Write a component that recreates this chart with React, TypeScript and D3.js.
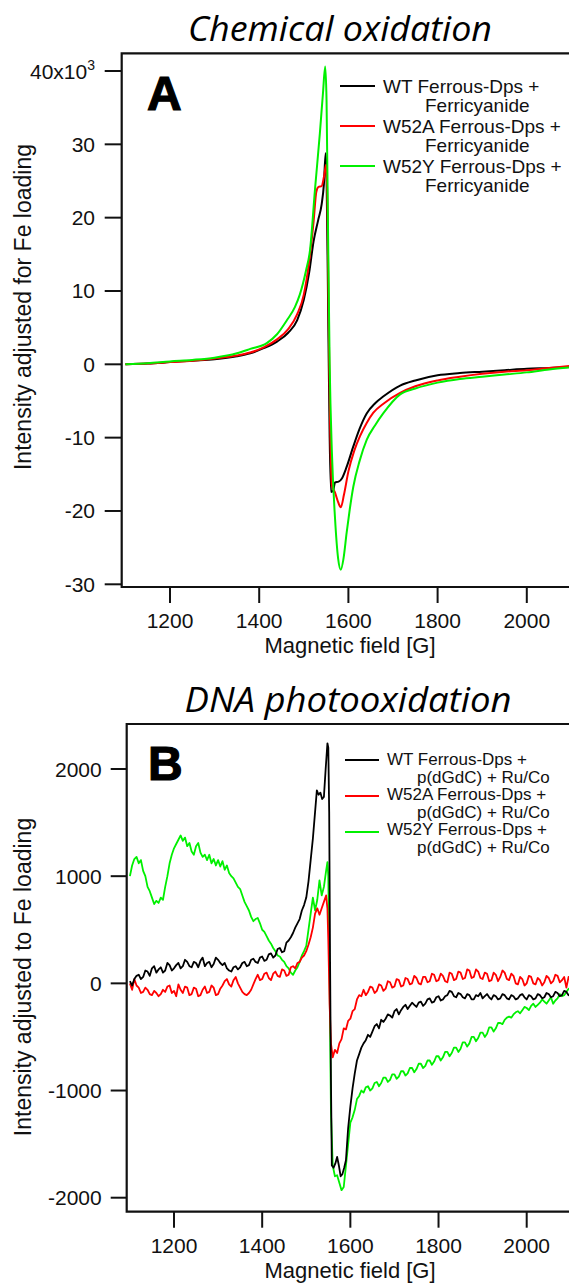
import React from "react";
import * as d3 from "d3";

// ---------- DATA ----------
const FIELD_TICKS = [1200, 1400, 1600, 1800, 2000];
const A_Y_TICKS = [-30, -20, -10, 0, 10, 20, 30, 40];
const B_Y_TICKS = [-2000, -1000, 0, 1000, 2000];

const A_LABELS = ["WT Ferrous-Dps +", "W52A Ferrous-Dps +", "W52Y Ferrous-Dps +"];
const A_LABEL2 = "Ferricyanide";
const B_LABEL2 = "p(dGdC) + Ru/Co";
const COLORS = ["#000000", "#ff0000", "#00f000"];

// Panel A (x10^3)
const A_WT: [number, number][] = [
  [1100, 0], [1150, 0.1], [1200, 0.3], [1250, 0.5], [1300, 0.7], [1350, 1.1], [1380, 1.5], [1410, 2.2],
  [1440, 3.1], [1465, 4.3], [1485, 6.0], [1500, 8.8], [1512, 12.5], [1522, 16.8], [1532, 19.6], [1540, 21.8],
  [1545, 24.5], [1549, 28.8], [1551, 26], [1555, 5], [1558, -10], [1561, -17.4], [1566, -17.2], [1570, -16.1],
  [1578, -16.0], [1585, -15.6], [1596, -14], [1611, -11.2], [1625, -8.8], [1641, -6.7], [1660, -5.3],
  [1678, -4.4], [1716, -2.9], [1750, -2.2], [1800, -1.5], [1850, -1.2], [1900, -1.0], [1950, -0.8],
  [2000, -0.6], [2050, -0.5], [2100, -0.35],
];
const A_W52A: [number, number][] = [
  [1100, 0], [1150, 0.1], [1200, 0.3], [1250, 0.5], [1300, 0.8], [1350, 1.2], [1380, 1.6], [1410, 2.3],
  [1440, 3.4], [1465, 4.8], [1485, 6.8], [1500, 9.5], [1512, 14], [1522, 19.5], [1528, 23.5], [1533, 24.2],
  [1540, 24.3], [1545, 25.5], [1550, 27.2], [1553, 22], [1556, 5], [1559, -8], [1563, -16.5], [1570, -17.5],
  [1577, -18.8], [1583, -19.5], [1590, -17.8], [1600, -14.6], [1613, -11.8], [1626, -9.8], [1641, -8.0],
  [1656, -6.6], [1680, -5.3], [1716, -3.9], [1750, -3.0], [1800, -2.2], [1850, -1.7], [1900, -1.3],
  [1950, -1.0], [2000, -0.8], [2050, -0.5], [2100, -0.2],
];
const A_W52Y: [number, number][] = [
  [1100, 0], [1150, 0.15], [1200, 0.4], [1250, 0.6], [1300, 0.9], [1350, 1.5], [1380, 2.1], [1417, 2.9],
  [1440, 4.1], [1462, 6.0], [1480, 7.8], [1491, 9.5], [1505, 12.8], [1514, 15.6], [1525, 23.8], [1536, 31.5],
  [1543, 37], [1548, 40.6], [1551, 36], [1554, 20], [1558, 0], [1563, -12], [1570, -21], [1577, -26.5],
  [1583, -28], [1589, -26.5], [1596, -23], [1603, -19.8], [1611, -16.7], [1625, -13.2], [1641, -10.3],
  [1660, -8.3], [1678, -6.7], [1716, -4.1], [1750, -3.3], [1800, -2.5], [1850, -2.0], [1900, -1.7],
  [1950, -1.4], [2000, -1.1], [2050, -0.7], [2100, -0.4],
];

// Panel B
const B_WT: [number, number][] = [
  [1100, 20], [1105, -20], [1110, 40], [1115, 70], [1120, 80], [1125, 40], [1130, 60], [1135, 120],
  [1140, 110], [1145, 70], [1150, 140], [1155, 160], [1160, 100], [1165, 130], [1170, 150], [1175, 100],
  [1180, 120], [1185, 190], [1190, 170], [1195, 120], [1200, 140], [1205, 170], [1210, 190], [1215, 140],
  [1220, 160], [1225, 220], [1230, 200], [1235, 160], [1240, 150], [1245, 200], [1250, 190], [1255, 150],
  [1260, 210], [1265, 240], [1270, 160], [1275, 190], [1280, 200], [1285, 150], [1290, 180], [1295, 240],
  [1300, 220], [1305, 190], [1310, 170], [1315, 190], [1320, 140], [1325, 120], [1330, 110], [1335, 150],
  [1340, 160], [1345, 130], [1350, 150], [1355, 190], [1360, 200], [1365, 160], [1370, 170], [1375, 220],
  [1380, 230], [1385, 200], [1390, 190], [1395, 240], [1400, 250], [1405, 210], [1410, 220], [1415, 270],
  [1420, 280], [1425, 240], [1430, 260], [1435, 320], [1440, 330], [1445, 290], [1450, 300], [1455, 380],
  [1460, 400], [1465, 430], [1470, 470], [1475, 520], [1480, 560], [1485, 600], [1490, 680], [1495, 730],
  [1500, 800], [1505, 950], [1510, 1150], [1515, 1350], [1520, 1600], [1524, 1800],
  [1528, 1760], [1532, 1780], [1536, 1720], [1540, 1740], [1544, 2000], [1548, 2240], [1550, 2200],
  [1552, 1600], [1554, 200], [1556, -900], [1558, -1700], [1562, -1720], [1566, -1680], [1570, -1620],
  [1574, -1700], [1578, -1800], [1582, -1780], [1586, -1720], [1590, -1650], [1595, -1350], [1600, -1150],
  [1605, -980], [1610, -840], [1615, -720], [1620, -660], [1625, -600], [1630, -560], [1635, -530],
  [1640, -480], [1645, -500], [1650, -450], [1655, -400], [1660, -380], [1665, -420], [1670, -340],
  [1675, -360], [1680, -330], [1685, -290], [1690, -300], [1695, -320], [1700, -260], [1705, -240],
  [1710, -290], [1715, -250], [1720, -220], [1725, -200], [1730, -240], [1735, -210], [1740, -180],
  [1745, -200], [1750, -220], [1755, -180], [1760, -170], [1765, -210], [1770, -190], [1775, -150],
  [1780, -140], [1785, -180], [1790, -170], [1795, -130], [1800, -120], [1805, -160], [1810, -150],
  [1815, -120], [1820, -110], [1825, -70], [1830, -80], [1835, -120], [1840, -130], [1845, -90],
  [1850, -100], [1855, -130], [1860, -140], [1865, -100], [1870, -110], [1875, -150], [1880, -150],
  [1885, -110], [1890, -120], [1895, -90], [1900, -140], [1905, -120], [1910, -100], [1915, -130],
  [1920, -150], [1925, -110], [1930, -120], [1935, -150], [1940, -140], [1945, -100], [1950, -110],
  [1955, -140], [1960, -150], [1965, -110], [1970, -120], [1975, -150], [1980, -140], [1985, -110],
  [1990, -100], [1995, -130], [2000, -150], [2005, -110], [2010, -120], [2015, -150], [2020, -140],
  [2025, -100], [2030, -110], [2035, -140], [2040, -130], [2045, -90], [2050, -100], [2055, -130],
  [2060, -120], [2065, -80], [2070, -90], [2075, -120], [2080, -110], [2085, -70], [2090, -80],
  [2095, -110], [2100, -120],
];
const B_W52A: [number, number][] = [
  [1100, 0], [1105, -60], [1110, 40], [1115, -20], [1120, -40], [1125, -90], [1130, -80], [1135, -40],
  [1140, -60], [1145, -100], [1150, -110], [1155, -70], [1160, -90], [1165, -120], [1170, -100],
  [1175, -60], [1180, -80], [1185, -30], [1190, -20], [1195, -90], [1200, -70], [1205, -120], [1210, -10],
  [1215, -60], [1220, -90], [1225, -30], [1230, -40], [1235, -110], [1240, -100], [1245, -40],
  [1250, -50], [1255, -120], [1260, -110], [1265, -60], [1270, -30], [1275, -90], [1280, -80],
  [1285, -20], [1290, -40], [1295, -110], [1300, -100], [1305, -50], [1310, -20], [1315, 20], [1320, 40],
  [1325, -10], [1330, -30], [1335, 30], [1340, 60], [1345, 0], [1350, -40], [1355, -80], [1360, -100],
  [1365, -110], [1370, -90], [1375, -60], [1380, -10], [1385, 40], [1390, 80], [1395, 30], [1400, 40],
  [1405, 90], [1410, 100], [1415, 50], [1420, 30], [1425, 90], [1430, 110], [1435, 70], [1440, 60],
  [1445, 130], [1450, 120], [1455, 70], [1460, 80], [1465, 150], [1470, 160], [1475, 140], [1480, 190],
  [1485, 200], [1490, 240], [1495, 260], [1500, 300], [1505, 360], [1510, 430], [1515, 520], [1520, 650],
  [1525, 700], [1530, 640], [1535, 700], [1540, 760], [1545, 820], [1548, 700], [1550, 400], [1553, -200],
  [1556, -560], [1560, -690], [1565, -620], [1570, -650], [1575, -560], [1580, -520], [1585, -420],
  [1590, -430], [1595, -350], [1600, -330], [1605, -260], [1610, -240], [1615, -150], [1620, -110],
  [1625, -120], [1630, -60], [1635, -110], [1640, -80], [1645, -30], [1650, -40], [1655, -90],
  [1660, -70], [1665, -10], [1670, -20], [1675, -70], [1680, -50], [1685, 20], [1690, 10], [1695, -40],
  [1700, -30], [1705, 40], [1710, 30], [1715, -30], [1720, -20], [1725, 50], [1730, 40], [1735, -10],
  [1740, 0], [1745, 70], [1750, 50], [1755, 0], [1760, -10], [1765, 60], [1770, 60], [1775, 10],
  [1780, 20], [1785, 90], [1790, 80], [1795, 20], [1800, 30], [1805, 90], [1810, 70], [1815, 20],
  [1820, 10], [1825, 100], [1830, 90], [1835, 30], [1840, 40], [1845, 110], [1850, 100], [1855, 40],
  [1860, 50], [1865, 130], [1870, 120], [1875, 50], [1880, 60], [1885, 130], [1890, 110], [1895, 50],
  [1900, 40], [1905, 100], [1910, 90], [1915, 20], [1920, 30], [1925, 100], [1930, 80], [1935, 20],
  [1940, 60], [1945, 120], [1950, 100], [1955, 40], [1960, 30], [1965, 90], [1970, 70], [1975, 0],
  [1980, -10], [1985, 60], [1990, 40], [1995, -20], [2000, 0], [2005, 70], [2010, 60], [2015, 0],
  [2020, -10], [2025, 50], [2030, 30], [2035, -20], [2040, 10], [2045, 70], [2050, 50], [2055, 0],
  [2060, 20], [2065, 80], [2070, 70], [2075, 10], [2080, 30], [2085, 60], [2090, -40], [2095, 60],
  [2100, 10],
];
const B_W52Y: [number, number][] = [
  [1100, 1000], [1105, 1100], [1110, 1160], [1115, 1180], [1120, 1120], [1125, 1150], [1130, 1050],
  [1135, 1000], [1140, 900], [1145, 860], [1150, 800], [1155, 740], [1160, 770], [1165, 750], [1170, 800],
  [1175, 780], [1180, 900], [1185, 1000], [1190, 1120], [1195, 1200], [1200, 1260], [1205, 1300],
  [1210, 1340], [1215, 1380], [1220, 1330], [1225, 1360], [1230, 1280], [1235, 1310], [1240, 1230],
  [1245, 1200], [1250, 1280], [1255, 1310], [1260, 1220], [1265, 1180], [1270, 1200], [1275, 1150],
  [1280, 1200], [1285, 1120], [1290, 1160], [1295, 1100], [1300, 1150], [1305, 1090], [1310, 1140],
  [1315, 1060], [1320, 1100], [1325, 1030], [1330, 1000], [1335, 980], [1340, 940], [1345, 900],
  [1350, 880], [1355, 820], [1360, 760], [1365, 720], [1370, 680], [1375, 620], [1380, 580], [1385, 600],
  [1390, 610], [1395, 560], [1400, 500], [1405, 480], [1410, 440], [1415, 400], [1420, 370], [1425, 330],
  [1430, 300], [1435, 260], [1440, 250], [1445, 220], [1450, 200], [1455, 160], [1460, 140], [1465, 100],
  [1470, 80], [1475, 120], [1480, 150], [1485, 200], [1490, 260], [1495, 300], [1500, 350], [1505, 500],
  [1510, 650], [1515, 800], [1520, 680], [1525, 780], [1530, 960], [1535, 820], [1540, 900], [1545, 1050],
  [1548, 1130], [1550, 1000], [1553, 0], [1556, -1200], [1560, -1700], [1565, -1800], [1570, -1790],
  [1575, -1860], [1580, -1930], [1585, -1900], [1590, -1700], [1595, -1500], [1600, -1300], [1605, -1250],
  [1610, -1180], [1615, -1080], [1620, -1050], [1625, -1000], [1630, -1020], [1635, -970], [1640, -960],
  [1645, -1000], [1650, -980], [1655, -930], [1660, -920], [1665, -960], [1670, -930], [1675, -880],
  [1680, -880], [1685, -920], [1690, -900], [1695, -850], [1700, -850], [1705, -890], [1710, -870],
  [1715, -820], [1720, -820], [1725, -860], [1730, -840], [1735, -790], [1740, -790], [1745, -830],
  [1750, -800], [1755, -750], [1760, -750], [1765, -790], [1770, -770], [1775, -720], [1780, -720],
  [1785, -760], [1790, -730], [1795, -680], [1800, -680], [1805, -720], [1810, -690], [1815, -640],
  [1820, -640], [1825, -680], [1830, -650], [1835, -600], [1840, -600], [1845, -640], [1850, -610],
  [1855, -550], [1860, -550], [1865, -590], [1870, -560], [1875, -500], [1880, -500], [1885, -540],
  [1890, -510], [1895, -460], [1900, -460], [1905, -500], [1910, -470], [1915, -410], [1920, -410],
  [1925, -450], [1930, -420], [1935, -370], [1940, -370], [1945, -380], [1950, -340], [1955, -320],
  [1960, -310], [1965, -320], [1970, -290], [1975, -270], [1980, -260], [1985, -280], [1990, -250],
  [1995, -220], [2000, -230], [2005, -250], [2010, -210], [2015, -190], [2020, -220], [2025, -200],
  [2030, -180], [2035, -150], [2040, -170], [2045, -190], [2050, -160], [2055, -130], [2060, -190],
  [2065, -160], [2070, -140], [2075, -100], [2080, -120], [2085, -110], [2090, -80], [2095, -50],
  [2100, -60],
];

// ---------- LAYOUT ----------
const W = 569;
const H = 1283;
const SANS = "'Liberation Sans', Arial, sans-serif";
const TITLE_FONT = "'Open Sans', sans-serif";

type LegendCfg = {
  x1: number;
  x2: number;
  tx: number;
  tx2: number;
  lineYs: number[];
  base1: number[];
  base2: number[];
  fs: number;
  label2: string;
};

type PanelProps = {
  title: string;
  titleW: number;
  letter: string;
  yLabel: string;
  x: d3.ScaleLinear<number, number>;
  y: d3.ScaleLinear<number, number>;
  yTicks: number[];
  top: number;
  bottom: number;
  left: number;
  tickLen: number;
  titleY: number;
  titleX: number;
  yLabelX: number;
  yLabelY: number;
  series: [number, number][][];
  order: number[];
  curve: d3.CurveFactory;
  lineW: number;
  letterPos: [number, number];
  legend: LegendCfg;
  yFmt: (v: number) => React.ReactNode;
  yLabRight: number;
};

function Panel(p: PanelProps) {
  const line = d3
    .line<[number, number]>()
    .x((d) => p.x(d[0]))
    .y((d) => p.y(d[1]))
    .curve(p.curve);
  return (
    <g>
      <text
        x={p.titleX}
        y={p.titleY}
        textAnchor="middle"
        fontFamily={TITLE_FONT}
        fontStyle="italic"
        fontSize={34}
        textLength={p.titleW}
        lengthAdjust="spacingAndGlyphs"
        fill="#000"
      >
        {p.title}
      </text>
      {/* frame */}
      <path
        d={`M${W + 10},${p.top}H${p.left}V${p.bottom}H${W + 10}`}
        fill="none"
        stroke="#111"
        strokeWidth={2.2}
      />
      {/* y ticks */}
      {p.yTicks.map((t) => (
        <g key={t}>
          <line x1={p.left - p.tickLen} x2={p.left} y1={p.y(t)} y2={p.y(t)} stroke="#111" strokeWidth={2} />
          <text
            x={p.yLabRight}
            y={p.y(t) + 7.5}
            textAnchor="end"
            fontFamily={SANS}
            fontSize={21}
            fill="#111"
          >
            {p.yFmt(t)}
          </text>
        </g>
      ))}
      {/* x ticks */}
      {FIELD_TICKS.map((t) => (
        <g key={t}>
          <line x1={p.x(t)} x2={p.x(t)} y1={p.bottom} y2={p.bottom + 16} stroke="#111" strokeWidth={2} />
          <text x={p.x(t)} y={p.bottom + 41} textAnchor="middle" fontFamily={SANS} fontSize={21} fill="#111">
            {t}
          </text>
        </g>
      ))}
      <text x={350} y={p.bottom + 66} textAnchor="middle" fontFamily={SANS} fontSize={22} fill="#111">
        Magnetic field [G]
      </text>
      <text
        transform={`translate(${p.yLabelX},${p.yLabelY}) rotate(-90)`}
        textAnchor="middle"
        fontFamily={SANS}
        fontSize={23}
        fill="#111"
      >
        {p.yLabel}
      </text>
      {/* curves */}
      <g>
        {p.order.map((i) => (
          <path
            key={i}
            d={line(p.series[i]) || ""}
            fill="none"
            stroke={COLORS[i]}
            strokeWidth={p.lineW}
            strokeLinejoin="round"
          />
        ))}
      </g>
      {/* letter */}
      <text
        x={p.letterPos[0]}
        y={p.letterPos[1]}
        fontFamily={SANS}
        fontWeight={900}
        fontSize={48}
        stroke="#000"
        strokeWidth={1.2}
        fill="#000"
      >
        {p.letter}
      </text>
      {/* legend */}
      {A_LABELS.map((lab, i) => (
        <g key={lab}>
          <line
            x1={p.legend.x1}
            x2={p.legend.x2}
            y1={p.legend.lineYs[i]}
            y2={p.legend.lineYs[i]}
            stroke={COLORS[i]}
            strokeWidth={2}
          />
          <text x={p.legend.tx} y={p.legend.base1[i]} fontFamily={SANS} fontSize={p.legend.fs} fill="#111">
            {lab}
          </text>
          <text x={p.legend.tx2} y={p.legend.base2[i]} fontFamily={SANS} fontSize={p.legend.fs} fill="#111">
            {p.legend.label2}
          </text>
        </g>
      ))}
    </g>
  );
}

export default function App() {
  const xA = d3.scaleLinear().domain([1200, 2000]).range([170, 526.8]);
  const yA = d3.scaleLinear().domain([-30, 40]).range([584.3, 71]);
  const xB = d3.scaleLinear().domain([1200, 2000]).range([174, 526.7]);
  const yB = d3.scaleLinear().domain([-2000, 2000]).range([1197.7, 769]);

  return (
    <svg
      width={W}
      height={H}
      viewBox={`0 0 ${W} ${H}`}
      style={{ position: "absolute", left: 0, top: 0, background: "#fff" }}
    >
      <rect width={W} height={H} fill="#fff" />
      <Panel
        title="Chemical oxidation"
        titleW={304}
        letter="A"
        yLabel="Intensity adjusted for Fe loading"
        x={xA}
        y={yA}
        yTicks={A_Y_TICKS}
        top={53.3}
        bottom={587}
        left={121.7}
        tickLen={17}
        titleX={340}
        titleY={41}
        yLabelX={31}
        yLabelY={307}
        series={[A_WT, A_W52A, A_W52Y]}
        order={[0, 1, 2]}
        curve={d3.curveMonotoneX}
        lineW={2}
        letterPos={[147, 110]}
        legend={{
          x1: 340,
          x2: 375,
          tx: 383,
          tx2: 425,
          lineYs: [86, 126, 166],
          base1: [93, 133, 173],
          base2: [112, 152, 192],
          fs: 19,
          label2: A_LABEL2,
        }}
        yFmt={(v) =>
          v === 40 ? (
            <>
              40x10<tspan dy={-9} fontSize={14}>3</tspan>
            </>
          ) : (
            String(v)
          )
        }
        yLabRight={95}
      />
      <Panel
        title="DNA photooxidation"
        titleW={327}
        letter="B"
        yLabel="Intensity adjusted to Fe loading"
        x={xB}
        y={yB}
        yTicks={B_Y_TICKS}
        top={724}
        bottom={1211.7}
        left={126.7}
        tickLen={16}
        titleX={348}
        titleY={711.7}
        yLabelX={31}
        yLabelY={977}
        series={[B_WT, B_W52A, B_W52Y]}
        order={[2, 1, 0]}
        curve={d3.curveLinear}
        lineW={1.8}
        letterPos={[148, 780]}
        legend={{
          x1: 345,
          x2: 379,
          tx: 387,
          tx2: 417,
          lineYs: [760, 796, 832],
          base1: [765, 800, 835],
          base2: [782.5, 817.5, 852.5],
          fs: 17,
          label2: B_LABEL2,
        }}
        yFmt={(v) => String(v)}
        yLabRight={101.7}
      />
    </svg>
  );
}
